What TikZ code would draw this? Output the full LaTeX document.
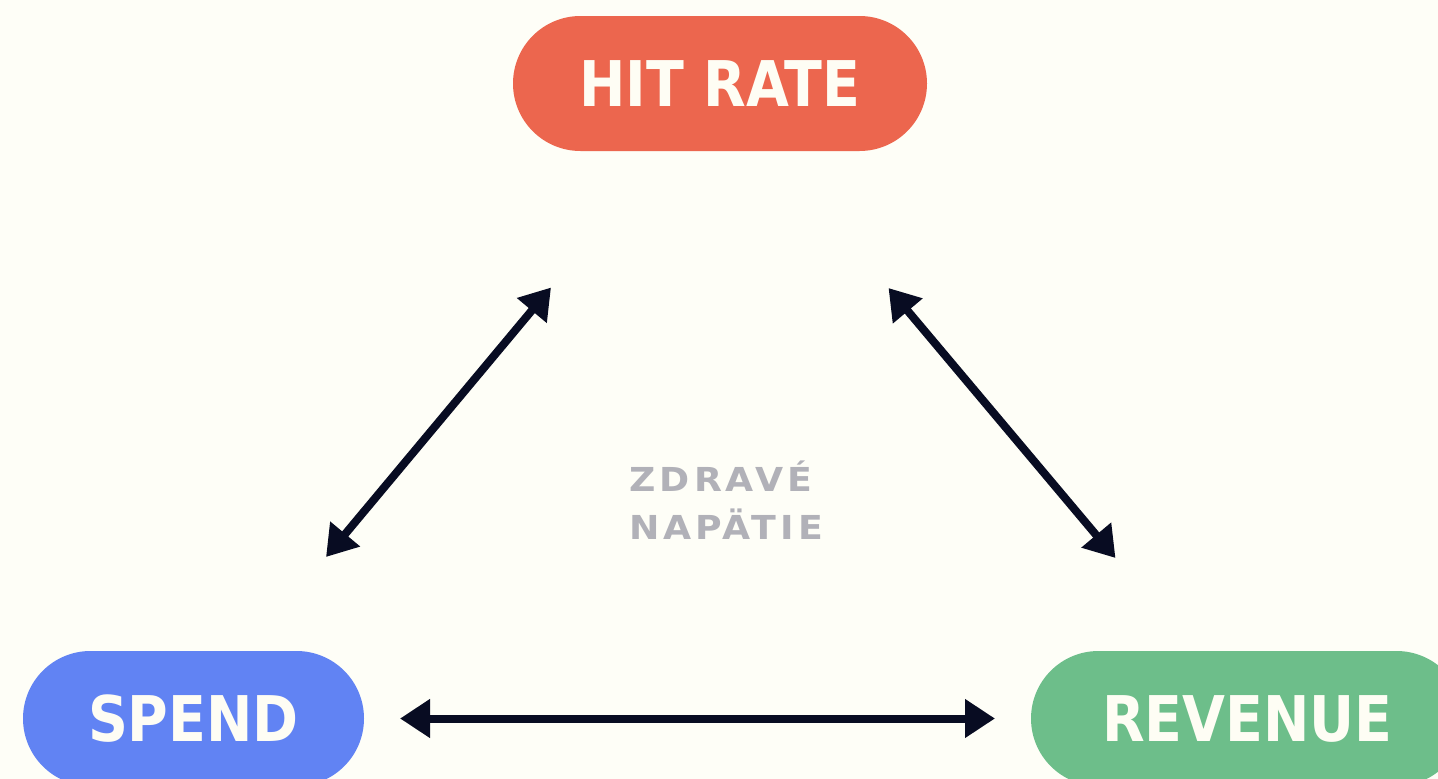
\documentclass[tikz,border=0pt]{standalone}
\usepackage{fontspec}
\setmainfont{Liberation Sans}
\newfontfamily\pillfont[FakeStretch=0.88]{DejaVu Sans}
\newfontfamily\midfont[FakeStretch=1.1,LetterSpace=12]{DejaVu Sans}
\usetikzlibrary{arrows.meta}
\definecolor{bgc}{HTML}{FEFEF7}
\definecolor{hitc}{HTML}{EC664E}
\definecolor{spendc}{HTML}{6183F3}
\definecolor{revc}{HTML}{6DBE8A}
\definecolor{arrc}{HTML}{080C22}
\definecolor{midc}{HTML}{B1B1B8}
\definecolor{pilltext}{HTML}{FEFDF4}
\tikzset{
  pill/.style={rectangle, rounded corners=67.5pt, minimum height=135pt, inner sep=0pt,
    text=pilltext, font=\pillfont\bfseries\fontsize{63}{70}\selectfont},
  link/.style={draw=arrc, line width=8pt, {Triangle[length=30pt,width=37pt]}-{Triangle[length=30pt,width=37pt]}},
  midtext/.style={text=midc, font=\midfont\bfseries\fontsize{33}{38}\selectfont, inner sep=0pt, anchor=base}
}
\begin{document}
\begin{tikzpicture}[x=1pt,y=-1pt]
\useasboundingbox (0,0) rectangle (1438,779);
\fill[bgc] (0,0) rectangle (1438,779);
\clip (0,0) rectangle (1438,779);
\node[pill, fill=hitc, minimum width=414pt] (hit) at (720,83.5) {HIT RATE};
\node[pill, fill=spendc, minimum width=341pt] (spend) at (193.5,718.5) {SPEND};
\node[pill, fill=revc, minimum width=433pt] (rev) at (1247.5,718.5) {REVENUE};
\node[midtext] (zdr) at (721,491) {ZDRAVÉ};
\node[midtext] (nap) at (726,539) {NAPÄTIE};
\coordinate (a1) at (326,557);
\coordinate (a2) at (551,287.5);
\coordinate (b1) at (888.5,288);
\coordinate (b2) at (1115.5,558);
\coordinate (c1) at (400,718.5);
\coordinate (c2) at (995,718.5);
\draw[link] (a1) -- (a2);
\draw[link] (b1) -- (b2);
\draw[link] (c1) -- (c2);
\end{tikzpicture}
\end{document}
